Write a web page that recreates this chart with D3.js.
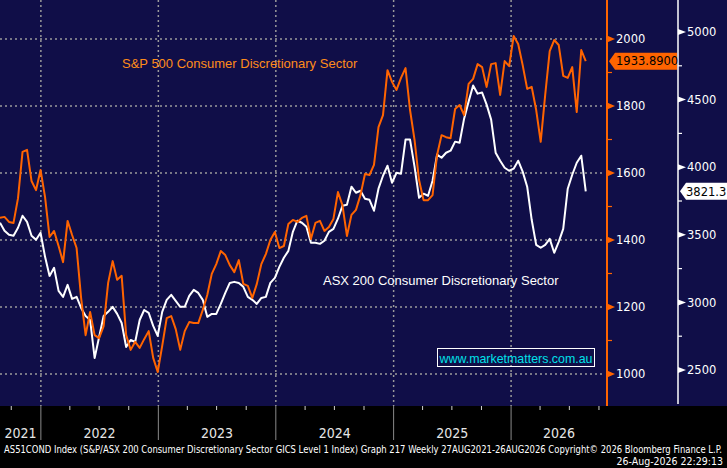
<!DOCTYPE html>
<html>
<head>
<meta charset="utf-8">
<script src="https://cdn.jsdelivr.net/npm/d3@7"></script>
<style>
  html, body { margin: 0; padding: 0; background: #000; }
  svg { display: block; }
  .narrow { font-family: "Liberation Sans Narrow", "DejaVu Sans Condensed", "Arial Narrow", sans-serif; font-stretch: condensed; }
</style>
</head>
<body>
<svg id="svg" width="727" height="468"></svg>
<script>
// fortnightly closes, first one 27 Aug 2021
const startDate = new Date(Date.UTC(2021, 7, 27));
const stepDays = 14;

// S&P 500 Consumer Discretionary Sector (left/orange axis)
const spxValues = [
  1466, 1469, 1454, 1451, 1525, 1663, 1669, 1576, 1549, 1609,
  1528, 1409, 1427, 1382, 1334, 1457, 1415, 1376, 1227, 1116,
  1185, 1116, 1107, 1143, 1272, 1337, 1281, 1293, 1116, 1072,
  1096, 1078, 1104, 1128, 1048, 1006, 1084, 1167, 1173, 1134,
  1072, 1128, 1155, 1152, 1152, 1191, 1236, 1299, 1328, 1367,
  1355, 1325, 1304, 1340, 1269, 1263, 1227, 1269, 1328, 1358,
  1400, 1424, 1376, 1382, 1448, 1460, 1454, 1466, 1472, 1403,
  1451, 1457, 1427, 1439, 1463, 1543, 1504, 1412, 1475, 1490,
  1534, 1597, 1594, 1624, 1737, 1773, 1907, 1872, 1848, 1884,
  1913, 1788, 1699, 1579, 1519, 1519, 1534, 1654, 1713, 1707,
  1704, 1791, 1803, 1773, 1866, 1881, 1925, 1916, 1857, 1925,
  1928, 1833, 1934, 1919, 2009, 1985, 1922, 1851, 1857, 1788,
  1693, 1833, 1964, 1997, 1982, 1890, 1884, 1916, 1782, 1967,
  1933.89
];

// S&P/ASX 200 Consumer Discretionary Sector (right/white axis)
const asxValues = [
  3589, 3530, 3500, 3493, 3552, 3641, 3596, 3493, 3463, 3515,
  3337, 3196, 3256, 3085, 3041, 3130, 3026, 3041, 2959, 2900,
  2870, 2589, 2744, 2900, 2930, 2967, 2915, 2848, 2670, 2722,
  2707, 2870, 2944, 2922, 2826, 2752, 2930, 3019, 3056, 3011,
  2967, 2967, 3048, 3093, 3070, 3019, 2893, 2915, 2915, 2989,
  3070, 3144, 3152, 3144, 3115, 3041, 3019, 2989, 3033, 3041,
  3144, 3181, 3263, 3330, 3381, 3522, 3604, 3589, 3559, 3441,
  3441, 3433, 3456, 3522, 3544, 3619, 3715, 3722, 3856, 3811,
  3826, 3767, 3759, 3678, 3841, 3937, 4011, 3885, 3959, 3952,
  4204, 4204, 4004, 3774, 3804, 3789, 3900, 4093, 4070, 4107,
  4122, 4189, 4181, 4359, 4485, 4604, 4544, 4552, 4463, 4352,
  4107, 4048, 3996, 3974, 3989, 4048, 3967, 3856, 3611, 3426,
  3404, 3426, 3470, 3367, 3448, 3544, 3841, 3944, 4033, 4085,
  3821.3
];

const years = [2021, 2022, 2023, 2024, 2025, 2026];
const spxTicks = [1000, 1200, 1400, 1600, 1800, 2000];
const spxMinor = [1100, 1300, 1500, 1700, 1900];
const asxTicks = [2500, 3000, 3500, 4000, 4500, 5000];
const asxMinor = [2750, 3250, 3750, 4250, 4750];

const spxName = 'S&P 500 Consumer Discretionary Sector';
const asxName = 'ASX 200 Consumer Discretionary Sector';
const siteText = 'www.marketmatters.com.au';
const footer1 = 'AS51COND Index (S&P/ASX 200 Consumer Discretionary Sector GICS Level 1 Index) Graph 217 Weekly 27AUG2021-26AUG2026  Copyright\u00a9 2026 Bloomberg Finance L.P.';
const footer2 = '26-Aug-2026 22:29:13';

const W = 727, H = 468;
const plotR = 607, plotB = 406, axis2X = 678;
const navy = '#100e48', orange = '#ff6400', orangeText = '#ff8c1a';

const dates = spxValues.map((v, i) => d3.utcDay.offset(startDate, i * stepDays));

const x = d3.scaleUtc()
  .domain([new Date(Date.UTC(2021, 7, 27)), new Date(Date.UTC(2026, 9, 26))])
  .range([0, plotR]);
const ySpx = d3.scaleLinear().domain([1000, 2000]).range([374, 39]);
const yAsx = d3.scaleLinear().domain([2500, 5000]).range([370, 32]);

const svg = d3.select('#svg');
svg.append('rect').attr('width', W).attr('height', H).attr('fill', '#000');
svg.append('rect').attr('width', W).attr('height', plotB).attr('fill', navy);

// grid
const grid = svg.append('g')
  .attr('stroke', '#9a9a9a').attr('stroke-width', 1.5).attr('stroke-dasharray', '2,3');
grid.selectAll('.hg').data(spxTicks).enter().append('line')
  .attr('x1', 0).attr('x2', plotR - 3)
  .attr('y1', d => ySpx(d)).attr('y2', d => ySpx(d));
const yearStarts = years.slice(1).map(y => new Date(Date.UTC(y, 0, 1)));
grid.selectAll('.vg').data(yearStarts).enter().append('line')
  .attr('x1', d => x(d)).attr('x2', d => x(d))
  .attr('y1', 0).attr('y2', plotB);

// lines
svg.append('defs').append('clipPath').attr('id', 'clip')
  .append('rect').attr('width', plotR - 1).attr('height', plotB);
const plot = svg.append('g').attr('clip-path', 'url(#clip)');
plot.append('path')
  .datum(asxValues)
  .attr('fill', 'none').attr('stroke', '#fff').attr('stroke-width', 2)
  .attr('stroke-linejoin', 'round')
  .attr('d', d3.line().x((d, i) => x(dates[i])).y(d => yAsx(d)));
plot.append('path')
  .datum(spxValues)
  .attr('fill', 'none').attr('stroke', orange).attr('stroke-width', 2)
  .attr('stroke-linejoin', 'round')
  .attr('d', d3.line().x((d, i) => x(dates[i])).y(d => ySpx(d)));

// series labels
svg.append('text').attr('x', 122).attr('y', 68)
  .attr('font-family', 'Liberation Sans, Arial, sans-serif').attr('font-size', 13)
  .attr('fill', orangeText).text(spxName);
svg.append('text').attr('x', 323).attr('y', 285)
  .attr('font-family', 'Liberation Sans, Arial, sans-serif').attr('font-size', 13)
  .attr('fill', '#fff').text(asxName);

// website box
svg.append('rect').attr('x', 437.5).attr('y', 348.5).attr('width', 157).attr('height', 18)
  .attr('fill', 'none').attr('stroke', '#fff').attr('stroke-width', 1);
svg.append('text').attr('x', 516).attr('y', 362.5).attr('text-anchor', 'middle')
  .attr('font-family', 'Liberation Sans, Arial, sans-serif').attr('font-size', 13)
  .attr('fill', '#00e0e8').attr('textLength', 153).attr('lengthAdjust', 'spacingAndGlyphs')
  .text(siteText);

// orange axis
const ax1 = svg.append('g');
ax1.append('line').attr('x1', plotR).attr('x2', plotR).attr('y1', 0).attr('y2', plotB)
  .attr('stroke', orange).attr('stroke-width', 2);
ax1.selectAll('.mn').data(spxMinor).enter().append('line')
  .attr('x1', plotR).attr('x2', plotR + 5)
  .attr('y1', d => ySpx(d)).attr('y2', d => ySpx(d))
  .attr('stroke', orange).attr('stroke-width', 1.2);
ax1.selectAll('.tri').data(spxTicks).enter().append('path')
  .attr('d', d => `M${plotR},${ySpx(d) - 3.5}L${plotR + 8},${ySpx(d)}L${plotR},${ySpx(d) + 3.5}Z`)
  .attr('fill', orange);
ax1.selectAll('.lb').data(spxTicks).enter().append('text')
  .attr('x', 616).attr('y', d => ySpx(d)).attr('dy', '0.36em')
  .attr('font-family', 'DejaVu Sans, Verdana, sans-serif').attr('font-size', 11.5)
  .attr('fill', '#fff').text(d => d);

// white axis
const ax2 = svg.append('g');
ax2.append('line').attr('x1', axis2X).attr('x2', axis2X).attr('y1', 0).attr('y2', plotB - 2)
  .attr('stroke', '#fff').attr('stroke-width', 1.5);
ax2.selectAll('.mn').data(asxMinor).enter().append('line')
  .attr('x1', axis2X).attr('x2', axis2X + 4)
  .attr('y1', d => yAsx(d)).attr('y2', d => yAsx(d))
  .attr('stroke', '#fff').attr('stroke-width', 1.2);
ax2.selectAll('.tri').data(asxTicks).enter().append('path')
  .attr('d', d => `M${axis2X},${yAsx(d) - 3}L${axis2X + 8},${yAsx(d)}L${axis2X},${yAsx(d) + 3}Z`)
  .attr('fill', '#fff');
ax2.selectAll('.lb').data(asxTicks).enter().append('text')
  .attr('x', 687).attr('y', d => yAsx(d)).attr('dy', '0.36em')
  .attr('font-family', 'DejaVu Sans, Verdana, sans-serif').attr('font-size', 11.5)
  .attr('fill', '#fff').text(d => d);

// last value tags
const lastSpx = spxValues[spxValues.length - 1];
const lastAsx = asxValues[asxValues.length - 1];
const ty1 = ySpx(lastSpx);
svg.append('path')
  .attr('d', `M${plotR + 2},${ty1}L${plotR + 8},${ty1 - 8.5}L${axis2X - 1},${ty1 - 8.5}L${axis2X - 1},${ty1 + 8.5}L${plotR + 8},${ty1 + 8.5}Z`)
  .attr('fill', orange);
svg.append('text').attr('x', 616).attr('y', ty1).attr('dy', '0.36em')
  .attr('font-family', 'DejaVu Sans, Verdana, sans-serif').attr('font-size', 11.5)
  .attr('fill', '#000').text(d3.format('.4f')(lastSpx));
const ty2 = yAsx(lastAsx);
svg.append('path')
  .attr('d', `M${axis2X + 2},${ty2}L${axis2X + 8},${ty2 - 8.5}L${W},${ty2 - 8.5}L${W},${ty2 + 8.5}L${axis2X + 8},${ty2 + 8.5}Z`)
  .attr('fill', '#fff');
svg.append('text').attr('x', 686).attr('y', ty2).attr('dy', '0.36em')
  .attr('font-family', 'DejaVu Sans, Verdana, sans-serif').attr('font-size', 11.5)
  .attr('fill', '#000').text(d3.format('.1f')(lastAsx));

// time axis
const tAxis = svg.append('g');
tAxis.selectAll('.yl').data(yearStarts).enter().append('line')
  .attr('x1', d => x(d)).attr('x2', d => x(d)).attr('y1', plotB).attr('y2', 440)
  .attr('stroke', '#8a8a8a').attr('stroke-width', 1);
const quarters = d3.utcMonth.every(3).range(new Date(Date.UTC(2021, 9, 1)), new Date(Date.UTC(2026, 10, 1)))
  .filter(d => d.getUTCMonth() !== 0);
tAxis.selectAll('.q').data(quarters).enter().append('line')
  .attr('x1', d => x(d)).attr('x2', d => x(d)).attr('y1', plotB).attr('y2', plotB + 4)
  .attr('stroke', '#cfcfcf').attr('stroke-width', 1);
tAxis.selectAll('.yt').data(years).enter().append('text')
  .attr('class', 'narrow')
  .attr('x', y => {
    const a = Math.max(0, x(new Date(Date.UTC(y, 0, 1))));
    const b = Math.min(plotR, x(new Date(Date.UTC(y + 1, 0, 1))));
    return (a + b) / 2;
  })
  .attr('y', 437.5).attr('text-anchor', 'middle')
  .attr('font-size', 14).attr('fill', '#e6e6e6').text(y => y);

// footer
svg.append('text').attr('class', 'narrow')
  .attr('x', 4).attr('y', 452.5).attr('font-size', 10.5).attr('fill', '#fff')
  .attr('textLength', 718).attr('lengthAdjust', 'spacingAndGlyphs').text(footer1);
svg.append('text').attr('class', 'narrow')
  .attr('x', 723).attr('y', 465).attr('text-anchor', 'end').attr('font-size', 10.5).attr('fill', '#fff')
  .text(footer2);
</script>
</body>
</html>
